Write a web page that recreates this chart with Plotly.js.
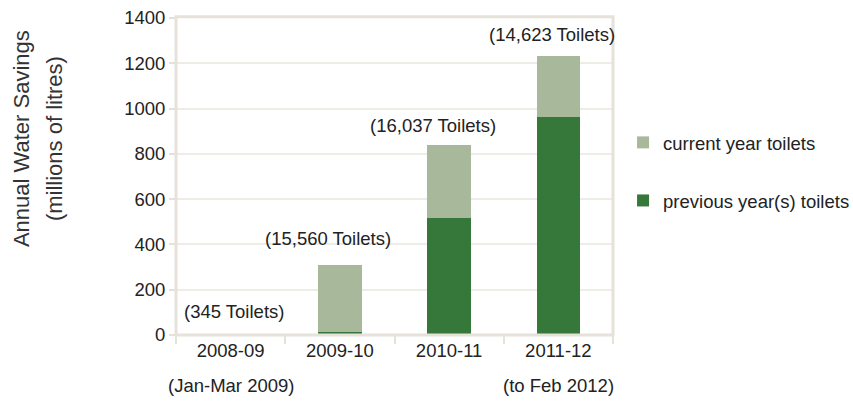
<!DOCTYPE html>
<html>
<head>
<meta charset="utf-8">
<script src="https://cdn.plot.ly/plotly-3.0.1.min.js"></script>
<style>body{margin:0;background:#fff}#chart{width:853px;height:401px}</style>
</head>
<body>
<div id="chart"></div>
<script>
const categories = ["2008-09", "2009-10", "2010-11", "2011-12"];
const previousYears = [0, 14, 517, 963];
const currentYear = [3, 295, 322, 269];
const toiletLabels = ["(345 Toilets)", "(15,560 Toilets)", "(16,037 Toilets)", "(14,623 Toilets)"];
const subLabels = ["(Jan-Mar 2009)", "", "", "(to Feb 2012)"];
const yTitleLines = ["Annual Water Savings", "(millions of litres)"];
const labelOffsets = [0.03, -0.11, -0.15, -0.06];
const labelY = [102, 424, 927, 1329];

const FONT = "Liberation Sans, Arial, Helvetica, sans-serif";
const frameColor = "#e6e2da";
const gridColor = "#efebe5";
const FS = 18.5;

const traces = [
  {type: "bar", name: "previous year(s) toilets", x: categories, y: previousYears,
   marker: {color: "#36773a"}, width: 0.4, legendgroup: "a", legendrank: 2, hoverinfo: "skip"},
  {type: "bar", name: "current year toilets", x: categories, y: currentYear,
   marker: {color: "#a8b89a"}, width: 0.4, legendgroup: "b", legendrank: 1, hoverinfo: "skip"}
];

const annotations = categories.map((c, i) => ({
  x: i + labelOffsets[i], y: labelY[i], xref: "x", yref: "y", text: toiletLabels[i],
  showarrow: false, font: {family: FONT, size: FS, color: "#222"}, xanchor: "center", yanchor: "middle"
}));
subLabels.forEach((s, i) => {
  if (!s) return;
  annotations.push({x: i, y: 0, xref: "x", yref: "paper", yshift: -50, text: s, showarrow: false,
    font: {family: FONT, size: FS, color: "#222"}, xanchor: "center", yanchor: "middle"});
});
const titleShifts = [-155, -122];
yTitleLines.forEach((t, i) => {
  annotations.push({x: 0, y: 0.618, xref: "paper", yref: "paper", xshift: titleShifts[i], text: t,
    textangle: -90, showarrow: false, font: {family: FONT, size: 22, color: "#333"},
    xanchor: "center", yanchor: "middle"});
});

const layout = {
  width: 853, height: 401,
  margin: {l: 176, r: 240, t: 18, b: 66, autoexpand: false},
  paper_bgcolor: "#fff", plot_bgcolor: "#fff",
  barmode: "stack",
  font: {family: FONT, size: FS, color: "#222"},
  xaxis: {
    type: "category", range: [-0.5, 3.5], autorange: false,
    tickson: "boundaries", ticks: "outside", ticklen: 8, tickcolor: frameColor, tickwidth: 2,
    showgrid: false, showline: false, zeroline: false, fixedrange: true, ticklabelstandoff: 2,
    tickfont: {family: FONT, size: FS, color: "#222"}
  },
  yaxis: {
    range: [0, 1400], autorange: false, dtick: 200, ticks: "outside", ticklen: 6, tickcolor: frameColor, tickwidth: 2,
    showgrid: true, gridcolor: gridColor, gridwidth: 2, zeroline: false, showline: false,
    tickfont: {family: FONT, size: FS, color: "#222"}
  },
  legend: {
    x: 1.023, y: 0.666, xanchor: "left", yanchor: "top",
    traceorder: "grouped", tracegroupgap: 31,
    font: {family: FONT, size: FS, color: "#222"}, bgcolor: "rgba(0,0,0,0)"
  },
  shapes: [{type: "rect", xref: "paper", yref: "paper", x0: 0, x1: 1, y0: 0, y1: 1.004,
    line: {color: frameColor, width: 3}, layer: "above"}],
  annotations: annotations
};

Plotly.newPlot("chart", traces, layout, {displayModeBar: false, staticPlot: true});
</script>
</body>
</html>
